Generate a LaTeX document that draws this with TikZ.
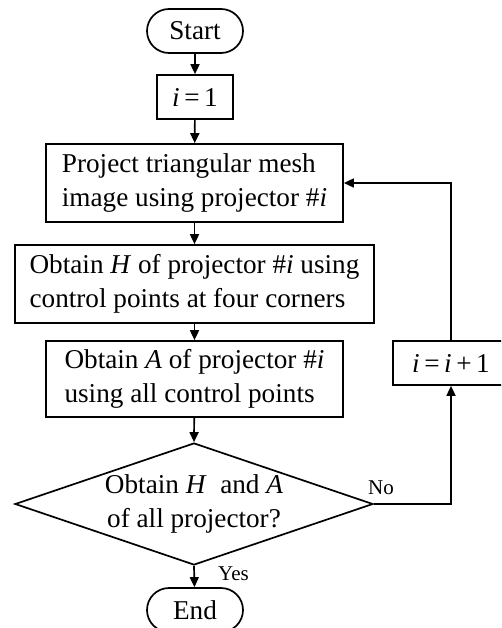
\documentclass[tikz,border=0pt]{standalone}
\usepackage{fontspec}
\setmainfont{Liberation Serif}
\usetikzlibrary{arrows.meta,shapes.geometric}
\begin{document}
\begin{tikzpicture}[x=1pt,y=-1pt,
  every node/.style={font=\fontsize{27.2}{34}\selectfont},
  term/.style={draw,line width=1.7pt,rounded corners=22pt,minimum width=96pt,minimum height=44pt,inner sep=0pt},
  proc/.style={draw,line width=1.7pt,align=left,inner sep=0pt},
  decis/.style={draw,line width=1.7pt,diamond,minimum width=358pt,minimum height=122pt,inner sep=0pt},
  lbl/.style={font=\fontsize{21}{24}\selectfont,inner sep=0pt},
  conn/.style={line width=1.7pt,-{Triangle[length=10pt,width=9pt]}}]
\path[use as bounding box,clip] (0,0) rectangle (501,628);
\node[term] (start) at (195,31) {Start};
\node[proc,minimum width=76pt,minimum height=44pt] (init) at (195,97) {\textit{i}\,=\,1};
\node[proc,minimum width=297pt,minimum height=78pt] (proj) at (194.5,183) {Project triangular mesh\\image using projector \#\textit{i}};
\node[proc,minimum width=359pt,minimum height=78pt] (geth) at (194.5,284) {Obtain \textit{H} of projector \#\textit{i} using\\control points at four corners};
\node[proc,minimum width=297pt,minimum height=76pt] (geta) at (194.5,379) {Obtain \textit{A} of projector \#\textit{i}\\using all control points};
\node[decis] (dec) at (194,504) {};
\node[align=center,inner sep=0pt] (dectext) at (dec.center) {Obtain \textit{H}\ \ and \textit{A}\\of all projector?};
\node[term] (end) at (195,610) {End};
\node[proc,minimum width=116pt,minimum height=44pt] (inc) at (451,363) {\textit{i}\,=\,\textit{i}\,+\,1};
\coordinate (nocorner) at (451,504);
\coordinate (upcorner) at (451,183);
\draw[conn] (start) -- (init);
\draw[conn] (init) -- (proj);
\draw[conn] (proj) -- (geth);
\draw[conn] (geth) -- (geta);
\draw[conn] (geta) -- (dec.north);
\draw[conn] (dec.south) -- (end);
\node[lbl,anchor=base west] (yes) at (218,580) {Yes};
\draw[conn] (dec.east) -- (nocorner) -- (inc);
\node[lbl,anchor=base west] (no) at (368,494) {No};
\draw[conn] (inc) -- (upcorner) -- (proj.east);
\end{tikzpicture}
\end{document}
